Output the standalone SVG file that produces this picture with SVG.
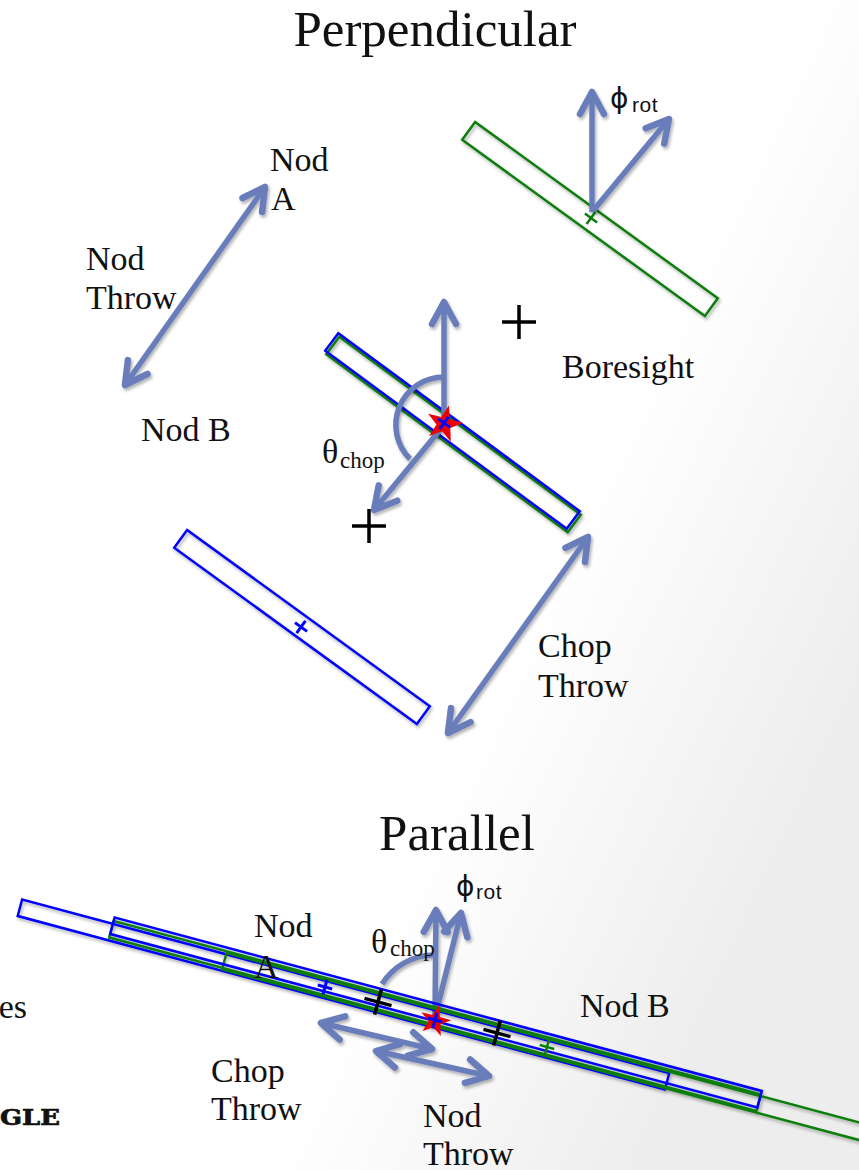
<svg xmlns="http://www.w3.org/2000/svg" xmlns:xlink="http://www.w3.org/1999/xlink" width="859" height="1170" viewBox="0 0 859 1170">
<defs>
<linearGradient id="bg" gradientUnits="userSpaceOnUse" x1="0" y1="300" x2="859" y2="700">
<stop offset="0" stop-color="#ffffff"/>
<stop offset="0.65" stop-color="#ffffff"/>
<stop offset="1" stop-color="#ededed"/>
</linearGradient>
<filter id="sh" x="-20%" y="-20%" width="140%" height="140%">
<feDropShadow dx="1.5" dy="2.5" stdDeviation="1.6" flood-color="#000" flood-opacity="0.3"/>
</filter>
<marker id="ah" viewBox="-30 -18 40 36" markerWidth="40" markerHeight="36" refX="0" refY="0" orient="auto-start-reverse" markerUnits="userSpaceOnUse">
<path d="M-22,-12 L0,0 L-22,12" fill="none" stroke="#6a7dbb" stroke-width="6.5" stroke-linejoin="round" stroke-linecap="round"/>
</marker>
<polygon id="star" points="4.9,-18.4 5.8,-4.7 19,-1 6.3,4.1 6.8,17.7 -1.9,7.2 -14.8,12 -7.5,0.4 -15.9,-10.3 -2.7,-7" fill="#ee0000"/>
<path id="xs" d="M-7.5,0H7.5M0,-7.5V7.5"/>
<path id="xb" d="M-17,0H17M0,-17V17"/>
<path id="xm" d="M-14,0H14M0,-13V13"/>
<style>
.lbl{font-family:"Liberation Serif","Times New Roman",serif;font-size:34px;fill:#111}
.ttl{font-family:"Liberation Serif","Times New Roman",serif;font-size:51px;fill:#111}
.sub{font-family:"Liberation Serif","Times New Roman",serif;font-size:23px;fill:#111}
.phi{font-family:"DejaVu Sans",sans-serif;font-size:28px;fill:#111}
.rot{font-family:"Liberation Sans",Arial,sans-serif;font-size:21px;fill:#111;letter-spacing:0.5px}
.mono{font-family:"DejaVu Serif",serif;font-weight:bold;font-size:22px;fill:#111;stroke:#111;stroke-width:0.7}
.gs{fill:none;stroke:#0a7d0a;stroke-width:2.5}
.bs{fill:none;stroke:#0000ff;stroke-width:2.5}
.ar{fill:none;stroke:#6a7dbb;stroke-width:5.5}
.ar1{marker-end:url(#ah)}
.ar2{marker-start:url(#ah);marker-end:url(#ah)}
.cb{stroke:#0000ff;stroke-width:3;fill:none}
.cg{stroke:#0a7d0a;stroke-width:2.5;fill:none}
.ck{stroke:#000;stroke-width:3.5;fill:none}
</style>
</defs>
<rect width="859" height="1170" fill="url(#bg)"/>

<!-- Perpendicular -->
<g id="title-perpendicular"><text class="ttl" x="435" y="46" text-anchor="middle">Perpendicular</text></g>

<g id="perp-slit-rot" filter="url(#sh)">
<rect class="gs" x="-150" y="-11" width="300" height="22" transform="translate(590,219) rotate(36)"/>
</g>
<g id="perp-slit-center" filter="url(#sh)">
<rect class="gs" x="-150" y="-11" width="300" height="22" transform="translate(453.5,434.5) rotate(36.4)"/>
<rect class="bs" x="-150" y="-11" width="300" height="22" transform="translate(452.5,431) rotate(36.4)"/>
</g>
<g id="perp-slit-chopB" filter="url(#sh)">
<rect class="bs" x="-150" y="-11" width="300" height="22" transform="translate(302,627) rotate(36)"/>
</g>

<g id="connectors" filter="url(#sh)">
<path class="ar ar1" d="M592,212 L592,92"/>
<path class="ar ar1" d="M592,212 L669,119"/>
<path class="ar ar2" d="M125,385 L265,187"/>
<path class="ar ar1" d="M444,425 L444,302"/>
<path class="ar ar1" d="M444,425 L374,510"/>
<path class="ar" d="M444,377 A48,48 0 0 0 410,459"/>
<path class="ar ar2" d="M588,537 L448,733"/>
<path class="ar ar1" d="M435,1017 L436,910"/>
<path class="ar ar1" d="M435,1017 L461,913"/>
<path class="ar" d="M382,984 A62,62 0 0 1 433,955"/>
<path class="ar ar2" d="M321,1023 L432,1049"/>
<path class="ar ar2" d="M376,1051 L489,1076"/>
</g>

<g id="perp-markers">
<use xlink:href="#xs" href="#xs" class="cg" transform="translate(591,218) rotate(36)"/>
<use xlink:href="#star" href="#star" transform="translate(444,424)"/>
<use xlink:href="#xs" href="#xs" class="cb" transform="translate(444,423) rotate(36)"/>
<use xlink:href="#xs" href="#xs" class="cb" transform="translate(301,627) rotate(36)"/>
</g>
<g id="boresight-marks">
<use xlink:href="#xb" href="#xb" class="ck" transform="translate(519,322)"/>
<use xlink:href="#xb" href="#xb" class="ck" transform="translate(369,526)"/>
</g>

<g id="perp-labels">
<text class="phi" x="610" y="108">ϕ</text><text class="rot" x="632" y="112">rot</text>
<text class="lbl" x="270" y="171">Nod</text><text class="lbl" x="271" y="210">A</text>
<text class="lbl" x="86" y="270">Nod</text><text class="lbl" x="86" y="309">Throw</text>
<text class="lbl" x="141" y="441">Nod B</text>
<text class="lbl" x="562" y="378">Boresight</text>
<text class="lbl" x="322" y="463">θ</text><text class="sub" x="340" y="468">chop</text>
<text class="lbl" x="538" y="657">Chop</text><text class="lbl" x="538" y="697">Throw</text>
</g>

<!-- Parallel -->
<g id="title-parallel"><text class="ttl" x="457" y="850" text-anchor="middle">Parallel</text></g>

<g id="par-slits" filter="url(#sh)">
<rect class="bs" x="-335" y="-8.5" width="670" height="17" transform="translate(343.5,994.5) rotate(15)"/>
<rect class="gs" x="-335" y="-8.5" width="670" height="17" transform="translate(547.9,1047.9) rotate(15)"/>
<rect class="gs" x="-335" y="-8.5" width="670" height="17" transform="translate(435,1016) rotate(15)"/>
<rect class="bs" x="-335" y="-8.5" width="670" height="17" transform="translate(436,1012.5) rotate(15)"/>
</g>

<g id="par-markers">
<use xlink:href="#xm" href="#xm" class="ck" transform="translate(378,1002) rotate(15)"/>
<use xlink:href="#xm" href="#xm" class="ck" transform="translate(497,1033) rotate(15)"/>
<use xlink:href="#xs" href="#xs" class="cb" transform="translate(325,987) rotate(15)"/>
<use xlink:href="#star" href="#star" transform="translate(435,1021) scale(0.85)"/>
<use xlink:href="#xs" href="#xs" class="cb" transform="translate(435,1020) rotate(15)"/>
<use xlink:href="#xs" href="#xs" class="cg" transform="translate(547,1047) rotate(15)"/>
</g>

<g id="par-labels">
<text class="phi" x="456" y="896">ϕ</text><text class="rot" x="476" y="899">rot</text>
<text class="lbl" x="254" y="937">Nod</text><text class="lbl" x="254" y="978">A</text>
<text class="lbl" x="371" y="953">θ</text><text class="sub" x="390" y="956">chop</text>
<text class="lbl" x="580" y="1017">Nod B</text>
<text class="lbl" x="211" y="1082">Chop</text><text class="lbl" x="211" y="1120">Throw</text>
<text class="lbl" x="423" y="1127">Nod</text><text class="lbl" x="423" y="1165">Throw</text>
<text class="lbl" x="27" y="1018" text-anchor="end">es</text>
<text class="mono" x="0" y="1125" textLength="60" lengthAdjust="spacingAndGlyphs">GLE</text>
</g>
</svg>
